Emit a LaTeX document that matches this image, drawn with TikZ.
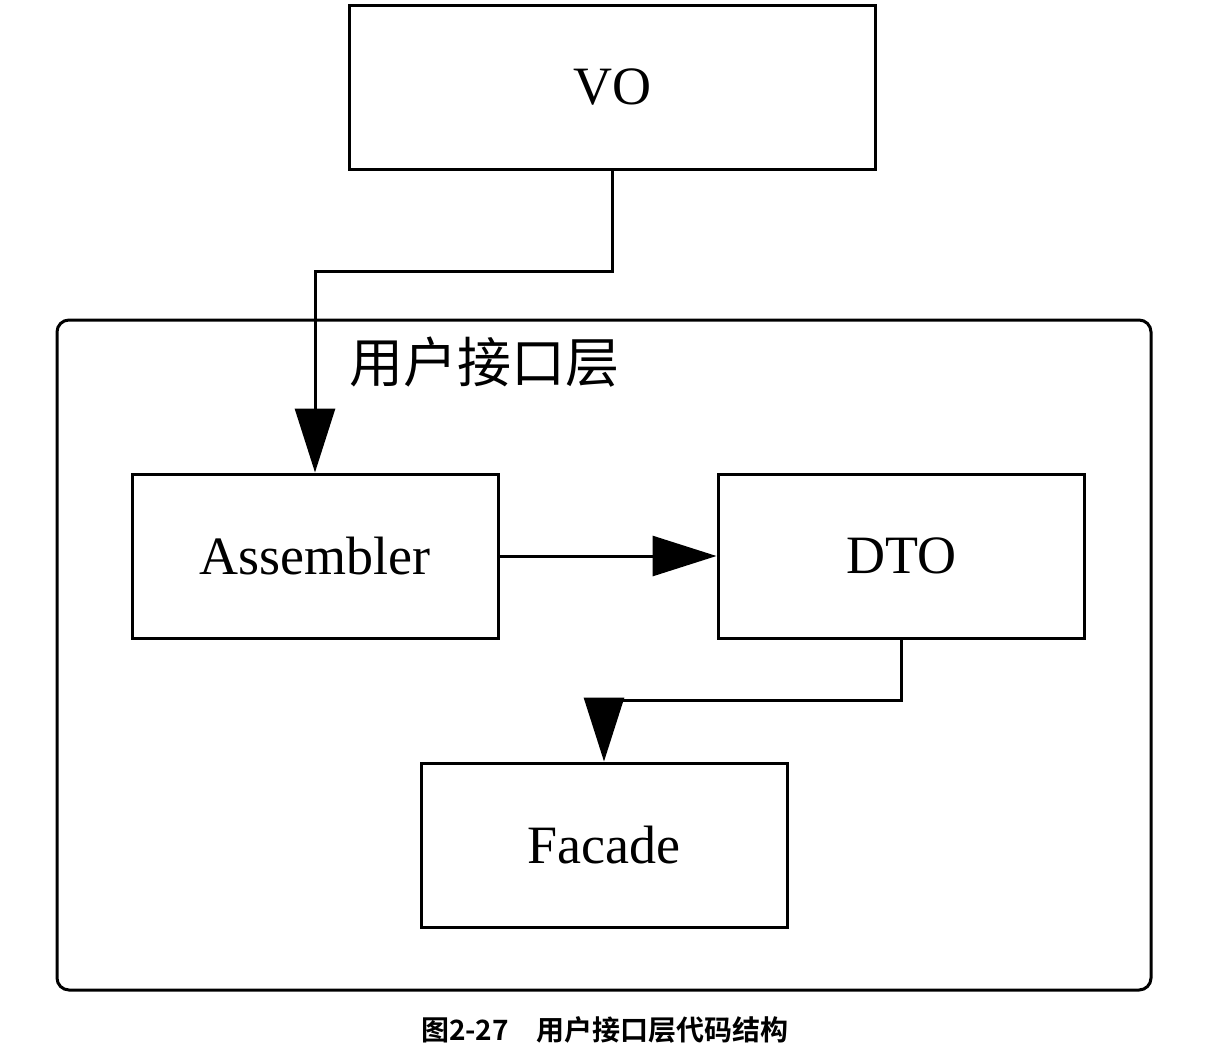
\documentclass[tikz,border=0pt]{standalone}
\usepackage{fontspec}
\setmainfont{Liberation Serif}
\newfontfamily\cjk{Noto Sans CJK SC}
\newfontfamily\cjkbold{Noto Sans CJK SC Bold}
\usetikzlibrary{arrows.meta}

\begin{document}
\begin{tikzpicture}[x=0.5pt, y=-0.5pt, line width=1.5pt,
    >={Triangle[length=32pt,width=20pt]},
    block/.style={draw, minimum width=183pt, minimum height=82pt, inner sep=0pt, font=\fontsize{27}{30}\selectfont}]
    \useasboundingbox (0,0) rectangle (1213,1050);

    % Container
    \draw [rounded corners=6pt] (57,320) rectangle (1151,990);
    \node [anchor=west, inner sep=0pt, font=\cjk\fontsize{27}{30}\selectfont] (layer) at (348,362) {用户接口层};

    % Nodes {vo, asm, dto, fac}
    \node [block, minimum width=263pt] (vo)  at (612,87)  {VO};
    \node [block]                      (asm) at (315,556) {Assembler};
    \node [block]                      (dto) at (901,556) {DTO};
    \node [block]                      (fac) at (604,845) {Facade};
    \coordinate (vobend)  at (315,271);
    \coordinate (facbend) at (604,700);

    % Paths
    \draw [->] (vo.south) |- (vobend) -- (asm.north);
    \draw [->] (asm) -- (dto);
    \draw [->] (dto.south) |- (facbend) -- (fac.north);

    % Caption
    \node [font=\cjkbold\fontsize{14}{16}\selectfont] (caption) at (605,1030) {图2-27\quad 用户接口层代码结构};
\end{tikzpicture}
\end{document}
